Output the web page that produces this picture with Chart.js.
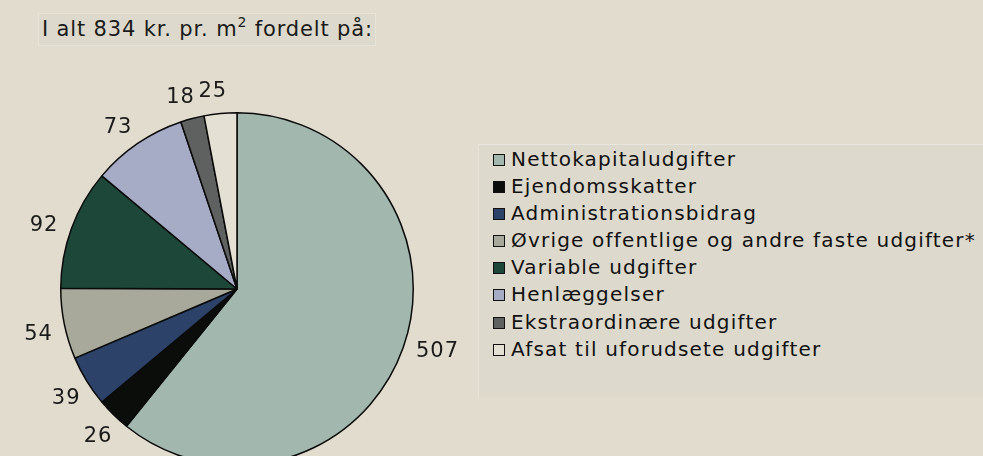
<!DOCTYPE html>
<html>
<head>
<meta charset="utf-8">
<script src="https://cdn.jsdelivr.net/npm/chart.js@4"></script>
<style>
    html, body { margin: 0; padding: 0; width: 983px; height: 456px; overflow: hidden; background: #e2dccf; font-family: "DejaVu Sans", Verdana, sans-serif; }
    #wrap { position: absolute; left: 0; top: 0; width: 983px; height: 480px; }
    #title { position: absolute; left: 38px; top: 13px; width: 338px; height: 33px; background: #dddacd; border: 1px solid #e6e3d9; box-sizing: border-box; font-size: 21px; color: #1a1a1a; line-height: 30px; padding-left: 3px; white-space: nowrap; letter-spacing: 0.85px; }
    #title sup { font-size: 14px; line-height: 0; vertical-align: 9px; }
    #legend { position: absolute; left: 478px; top: 144px; width: 505px; height: 254px; background: #dddacd; border-top: 1px solid #e9e6dd; border-left: 1px solid #e6e3d9; box-sizing: border-box; padding: 1px 0 0 14px; }
    .row { height: 27.1px; line-height: 27px; font-size: 20px; color: #111; white-space: nowrap; letter-spacing: 1.2px; }
    .box { display: inline-block; width: 10px; height: 10px; border: 1.5px solid #111; margin-right: 6px; vertical-align: 0px; }
</style>
</head>
<body>
<div id="wrap"><canvas id="pie" width="983" height="480"></canvas></div>
<div id="title">I alt 834 kr. pr. m<sup>2</sup> fordelt på:</div>
<div id="legend"></div>
<script>
var categories = [
    'Nettokapitaludgifter',
    'Ejendomsskatter',
    'Administrationsbidrag',
    'Øvrige offentlige og andre faste udgifter*',
    'Variable udgifter',
    'Henlæggelser',
    'Ekstraordinære udgifter',
    'Afsat til uforudsete udgifter'
];
var values = [507, 26, 39, 54, 92, 73, 18, 25];
var colors = ['#a2b8ae', '#0b0d0b', '#2c4268', '#a8a99a', '#1d4839', '#a6abc6', '#5f6161', '#e4e1d4'];

// value labels outside each slice
var outsideLabels = {
    id: 'outsideLabels',
    afterDatasetsDraw: function(chart) {
        var ctx = chart.ctx;
        var meta = chart.getDatasetMeta(0);
        ctx.save();
        ctx.font = '21px "DejaVu Sans", Verdana, sans-serif';
        ctx.letterSpacing = '1px';
        ctx.fillStyle = '#1a1a1a';
        ctx.textAlign = 'center';
        ctx.textBaseline = 'middle';
        meta.data.forEach(function(arc, i) {
            var mid = (arc.startAngle + arc.endAngle) / 2 - 0.025;
            var r = arc.outerRadius + 13;
            var text = String(values[i]);
            var w = ctx.measureText(text).width;
            var x = arc.x + Math.cos(mid) * r + Math.cos(mid) * w / 2;
            var y = arc.y + Math.sin(mid) * r + Math.sin(mid) * 11 + 1;
            ctx.fillText(text, x, y);
        });
        ctx.restore();
    }
};

new Chart('pie', {
    type: 'pie',
    data: {
        labels: categories,
        datasets: [{
            data: values,
            backgroundColor: colors,
            borderColor: '#0a0a0a',
            borderWidth: 1.5
        }]
    },
    options: {
        responsive: false,
        animation: false,
        layout: { padding: { left: 60, top: 112, right: 569, bottom: 14 } },
        plugins: {
            legend: { display: false },
            tooltip: { enabled: false }
        }
    },
    plugins: [outsideLabels]
});

var legend = document.getElementById('legend');
categories.forEach(function(name, i) {
    var row = document.createElement('div');
    row.className = 'row';
    var box = document.createElement('span');
    box.className = 'box';
    box.style.background = colors[i];
    row.appendChild(box);
    row.appendChild(document.createTextNode(name));
    legend.appendChild(row);
});
</script>
</body>
</html>
